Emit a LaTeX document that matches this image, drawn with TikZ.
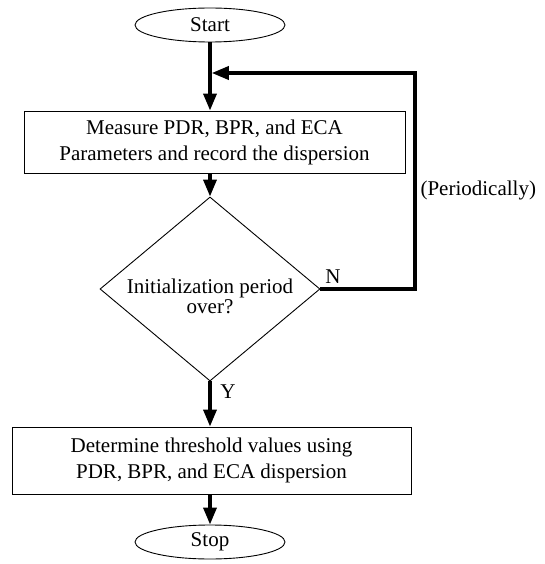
\documentclass[tikz,border=0pt]{standalone}
\usepackage{fontspec}
\setmainfont{Liberation Serif}
\usetikzlibrary{arrows.meta}
\usetikzlibrary{shapes.geometric}
\tikzset{
  term/.style={draw, line width=0.9pt, ellipse, minimum width=150pt, minimum height=34pt, inner sep=0pt},
  proc/.style={draw, line width=0.9pt, rectangle, align=center, inner sep=0pt},
  decision/.style={draw, line width=0.9pt, diamond, minimum width=220pt, minimum height=184pt, inner sep=0pt},
  flow/.style={line width=3.5pt, -{Triangle[length=17pt,width=13pt]}},
}
\begin{document}
\begin{tikzpicture}[x=1pt, y=-1pt, font=\fontsize{21}{26}\selectfont]
\useasboundingbox (0,0) rectangle (544,564);
\coordinate(L) at (210,73);
\coordinate(R) at (415,73);
\node[term] (start) at (210,25) {Start};
\node[proc, minimum width=381pt, minimum height=62pt] (meas) at (214.5,142)
  {Measure PDR, BPR, and ECA\\Parameters and record the dispersion};
\node[decision] (init) at (210,289) {};
\node[align=center, font=\fontsize{21}{20}\selectfont] (initlab) at (210,296)
  {Initialization period\\over?};
\node[proc, minimum width=399pt, minimum height=67pt] (thr) at (211.5,460.5)
  {Determine threshold values using\\PDR, BPR, and ECA dispersion};
\node[term] (stop) at (210,542) {Stop};
\draw[flow] (start.south) -- (start.south |- meas.north);
\draw[flow] (init.north |- meas.south) -- (init.north);
\draw[flow] (init.south) -- (thr.north -| init.south);
\draw[flow] (stop.north |- thr.south) -- (stop.north);
\draw[flow] (init.east) -| (R) -- ([xshift=1.75pt]L);
\node at (333,277) {N};
\node at (228,392) {Y};
\node[anchor=west] at (417,190) {(Periodically)};
\end{tikzpicture}
\end{document}
